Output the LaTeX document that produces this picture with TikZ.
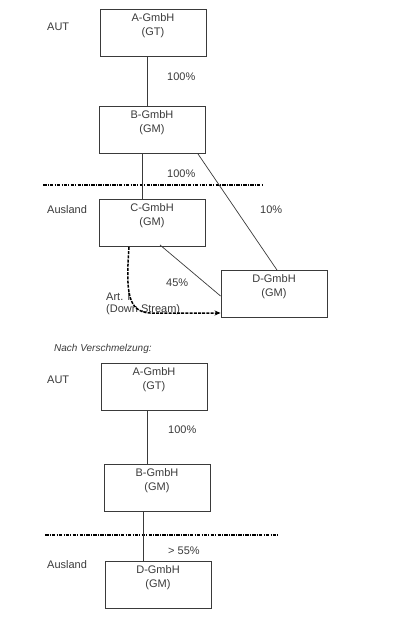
\documentclass[tikz,border=0pt]{standalone}
\usepackage{fontspec}
\setmainfont{Liberation Sans}
\usetikzlibrary{arrows.meta}
\definecolor{ink}{HTML}{3A3A3A}
\tikzset{
  box/.style={draw=ink, line width=0.9pt, minimum width=106pt, minimum height=47pt, inner sep=0pt},
  lab/.style={anchor=north, align=center, inner sep=0pt, yshift=-4.3pt, text=ink,
              font=\fontsize{11}{14}\selectfont},
  txt/.style={anchor=base west, inner sep=0pt, text=ink, font=\fontsize{11}{13}\selectfont},
  conn/.style={draw=ink, line width=0.7pt},
  border/.style={draw=black, line width=1.1pt, dash pattern=on 3.5pt off 1.2pt on 1pt off 1.2pt},
  merge/.style={draw=black, line width=1.5pt, dash pattern=on 3pt off 1.2pt, -{Stealth[length=6pt,width=5pt]}}
}
\begin{document}
\begin{tikzpicture}[x=1pt,y=-1pt]
\useasboundingbox (0,0) rectangle (400,618);
% upper part
\node[box, label={[lab]north:{A-GmbH\\(GT)}}] (a1) at (153,32.5) {};
\node[box, label={[lab]north:{B-GmbH\\(GM)}}] (b1) at (152,130) {};
\node[box, label={[lab]north:{C-GmbH\\(GM)}}] (c1) at (152,223) {};
\node[box, label={[lab]north:{D-GmbH\\(GM)}}] (d1) at (274,294) {};
\node[txt] (aut1) at (47,31) {AUT};
\node[txt] (p1) at (167,80) {100\%};
\node[txt] (p2) at (167,177) {100\%};
\node[txt] (p3) at (260,213) {10\%};
\node[txt] (aus1) at (47,213) {Ausland};
\node[txt] (p4) at (166,286) {45\%};
\node[txt] (art) at (106,300) {Art. I};
\node[txt] (ds) at (106,312) {(Down Stream)};
\coordinate (l1a) at (43,185);
\coordinate (l1b) at (262,185);
\draw[border] (l1a) -- (l1b);
\draw[conn] (a1.south -| 147,0) -- (b1.north -| 147,0);
\draw[conn] (b1.south -| 142,0) -- (c1.north -| 142,0);
\draw[conn] (b1.south -| 198,0) -- (d1.north -| 277,0);
\draw[conn] ([yshift=2pt]c1.south -| 160,0) -- (d1.west |- 0,296);
\draw[merge] (c1.south -| 129,0) .. controls (126,290) and (127,312) .. (150,313) -- (d1.west |- 0,313);
% lower part
\node[txt, font=\fontsize{10}{12}\selectfont\itshape] (nach) at (54,351) {Nach Verschmelzung:};
\node[box, label={[lab]north:{A-GmbH\\(GT)}}] (a2) at (154,386.5) {};
\node[box, label={[lab]north:{B-GmbH\\(GM)}}] (b2) at (157,487.5) {};
\node[box, label={[lab]north:{D-GmbH\\(GM)}}] (d2) at (158,584.5) {};
\node[txt] (aut2) at (47,383) {AUT};
\node[txt] (p5) at (168,433) {100\%};
\node[txt] (p6) at (168,554) {> 55\%};
\node[txt] (aus2) at (47,568) {Ausland};
\coordinate (l2a) at (45,535);
\coordinate (l2b) at (279,535);
\draw[border] (l2a) -- (l2b);
\draw[conn] (a2.south -| 147,0) -- (b2.north -| 147,0);
\draw[conn] (b2.south -| 143,0) -- (d2.north -| 143,0);
\end{tikzpicture}
\end{document}
